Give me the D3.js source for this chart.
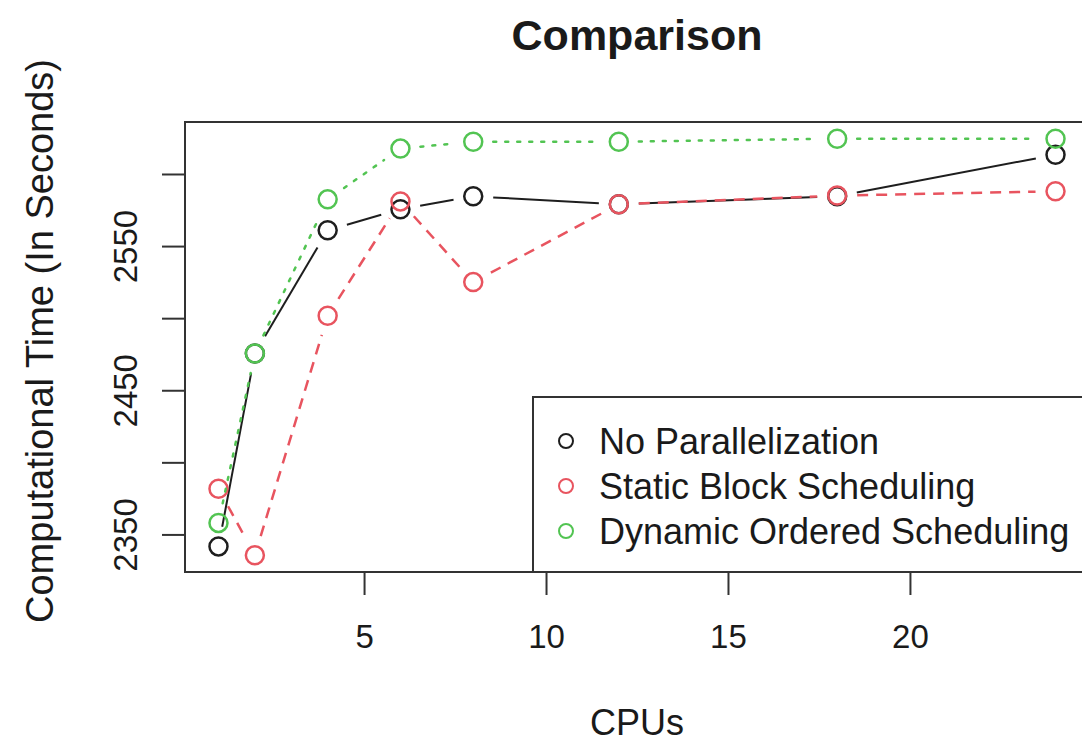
<!DOCTYPE html>
<html>
<head>
<meta charset="utf-8">
<script src="https://cdn.jsdelivr.net/npm/d3@7"></script>
<style>
  html, body { margin: 0; padding: 0; background: #fff; overflow: hidden; }
  text { font-family: "Liberation Sans", Arial, Helvetica, sans-serif; fill: #1a1a1a; }
</style>
</head>
<body>
<svg id="chart" width="1082" height="744"></svg>
<script>
// ---- data ----
const cpus = [1, 2, 4, 6, 8, 12, 18, 24];
const noParallel = [2341.7, 2475.5, 2561, 2575.5, 2584.5, 2579, 2584.5, 2613.4];
const staticBlock = [2381.7, 2335.5, 2501.7, 2581, 2525, 2579, 2585, 2588];
const dynamicOrdered = [2358, 2475.5, 2582.4, 2617.6, 2622.4, 2622.4, 2624.5, 2624.5];
const seriesNames = ["No Parallelization", "Static Block Scheduling", "Dynamic Ordered Scheduling"];
const xTicks = [5, 10, 15, 20];
const yTicks = [2350, 2400, 2450, 2500, 2550, 2600];
const yTickLabels = ["2350", "", "2450", "", "2550", ""];
const titleText = "Comparison";
const xLabel = "CPUs";
const yLabel = "Computational Time (In Seconds)";

// ---- styles ----
const colors = ["#1e1e1e", "#e8545f", "#52c452"];
const dashes = [null, "11,8", "3,9"];

const svg = d3.select("#chart");
const plot = { left: 185, right: 1089, top: 122, bottom: 572 };

// R-style 4% padding
const allX = cpus;
const allY = noParallel.concat(staticBlock, dynamicOrdered);
const xr = d3.extent(allX), yr = d3.extent(allY);
const xp = (xr[1] - xr[0]) * 0.04, yp = (yr[1] - yr[0]) * 0.04;
const x = d3.scaleLinear().domain([xr[0] - xp, xr[1] + xp]).range([plot.left, plot.right]);
const y = d3.scaleLinear().domain([yr[0] - yp, yr[1] + yp]).range([plot.bottom, plot.top]);

// series
const allSeries = [noParallel, staticBlock, dynamicOrdered];
const r = 9, gap = 20;
allSeries.forEach((vals, si) => {
  const g = svg.append("g");
  for (let i = 0; i < cpus.length - 1; i++) {
    const x0 = x(cpus[i]), y0 = y(vals[i]), x1 = x(cpus[i + 1]), y1 = y(vals[i + 1]);
    const len = Math.hypot(x1 - x0, y1 - y0);
    if (len <= 2 * gap) continue;
    const ux = (x1 - x0) / len, uy = (y1 - y0) / len;
    const ln = g.append("line")
      .attr("x1", x0 + ux * gap).attr("y1", y0 + uy * gap)
      .attr("x2", x1 - ux * gap).attr("y2", y1 - uy * gap)
      .attr("stroke", colors[si]).attr("stroke-width", si === 0 ? 2 : 2.5)
      .attr("stroke-linecap", si === 2 ? "round" : "butt");
    if (dashes[si]) ln.attr("stroke-dasharray", dashes[si]);
  }
  g.selectAll("circle").data(vals).join("circle")
    .attr("cx", (d, i) => x(cpus[i])).attr("cy", d => y(d))
    .attr("r", r).attr("fill", "none")
    .attr("stroke", colors[si]).attr("stroke-width", 2.5);
});

// box
svg.append("rect")
  .attr("x", plot.left).attr("y", plot.top)
  .attr("width", plot.right - plot.left).attr("height", plot.bottom - plot.top)
  .attr("fill", "none").attr("stroke", "#333").attr("stroke-width", 2);

// x axis
const xAxis = d3.axisBottom(x).tickValues(xTicks).tickSize(23).tickPadding(30);
const gx = svg.append("g").attr("transform", `translate(0,${plot.bottom})`).call(xAxis);
gx.select(".domain").attr("d", `M${x(1)},0H${x(20)}`).attr("stroke", "#333").attr("stroke-width", 2);
gx.selectAll(".tick line").attr("stroke", "#333").attr("stroke-width", 2);
gx.selectAll(".tick text").attr("font-size", 33).attr("fill", "#1a1a1a")
  .attr("font-family", "Liberation Sans, Arial, sans-serif");

// y axis
const yAxis = d3.axisLeft(y).tickValues(yTicks).tickSize(23).tickFormat((d, i) => yTickLabels[i]);
const gy = svg.append("g").attr("transform", `translate(${plot.left},0)`).call(yAxis);
gy.select(".domain").attr("d", `M0,${y(2350)}V${y(2600)}`).attr("stroke", "#333").attr("stroke-width", 2);
gy.selectAll(".tick line").attr("stroke", "#333").attr("stroke-width", 2);
gy.selectAll(".tick text")
  .attr("font-size", 33).attr("fill", "#1a1a1a")
  .attr("font-family", "Liberation Sans, Arial, sans-serif")
  .attr("x", 0).attr("dy", 0)
  .attr("text-anchor", "middle")
  .attr("transform", "translate(-48,0) rotate(-90)");

// titles
svg.append("text").attr("x", (plot.left + plot.right) / 2).attr("y", 50)
  .attr("text-anchor", "middle").attr("font-size", 43).attr("font-weight", "bold").text(titleText);
svg.append("text").attr("x", (plot.left + plot.right) / 2).attr("y", 735)
  .attr("text-anchor", "middle").attr("font-size", 36).text(xLabel);
svg.append("text").attr("transform", `translate(53,${(plot.top + plot.bottom) / 2 - 6}) rotate(-90)`)
  .attr("text-anchor", "middle").attr("font-size", 38).text(yLabel);

// legend
const lg = svg.append("g");
lg.append("rect").attr("x", 533).attr("y", 397).attr("width", 600).attr("height", plot.bottom - 397)
  .attr("fill", "#fff").attr("stroke", "#333").attr("stroke-width", 2);
seriesNames.forEach((name, i) => {
  const cy = 441 + i * 45;
  lg.append("circle").attr("cx", 566).attr("cy", cy).attr("r", 7)
    .attr("fill", "none").attr("stroke", colors[i]).attr("stroke-width", 2);
  lg.append("text").attr("x", 599).attr("y", cy + 13).attr("font-size", 36).text(name);
});
</script>
</body>
</html>
